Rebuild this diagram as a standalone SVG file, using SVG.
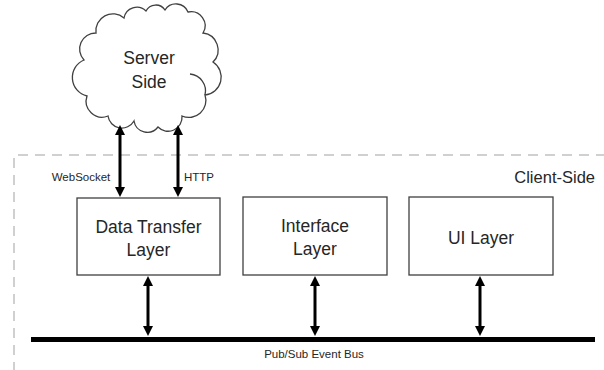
<svg xmlns="http://www.w3.org/2000/svg" width="604" height="370" viewBox="0 0 604 370">
<defs>
<style>
.box{fill:#fff;stroke:#404040;stroke-width:1.3}
.cloud{fill:#fff;stroke:#404040;stroke-width:1.3}
.t{font-family:"Liberation Sans",Arial,sans-serif;fill:#262626;text-anchor:middle}
.big{font-size:17.5px}
.small{font-size:11.5px}
.arr{stroke:#000;stroke-width:3;fill:none;marker-start:url(#ah);marker-end:url(#ah)}
</style>
<marker id="ah" viewBox="0 0 10 10" refX="2" refY="5" markerWidth="10" markerHeight="10" markerUnits="userSpaceOnUse" orient="auto-start-reverse">
<path d="M0,0 L10,5 L0,10 z" fill="#000"/>
</marker>
</defs>
<rect width="604" height="370" fill="#fff"/>
<g id="client-side">
<path d="M14,372 L14,155 L606,155" fill="none" stroke="#d0d0d0" stroke-width="2" stroke-dasharray="10,7"/>
<text class="t" x="595" y="183" style="font-size:16.5px;text-anchor:end">Client-Side</text>
</g>
<g id="server-side">
<path class="cloud" d="M84,60 A16,16 0 0 1 96,33 A17,17 0 0 1 124,18 A13,13 0 0 1 146,11 A11,11 0 0 1 165,10 A13,13 0 0 1 188,12 A14,14 0 0 1 203,33 A17,17 0 0 1 213,62 A18,18 0 0 1 205,95 A17,17 0 0 1 182,116 A14,14 0 0 1 158,127 A13.5,13.5 0 0 1 134,121 A14,14 0 0 1 108,116 A16,16 0 0 1 87,96 A19,19 0 0 1 84,60 z"/>
<path d="M190,74 A17,17 0 0 1 205,95" fill="none" stroke="#404040" stroke-width="1.3"/>
<text class="t big" x="149" y="64">Server</text>
<text class="t big" x="149" y="88">Side</text>
</g>
<g id="data-transfer">
<rect class="box" x="77" y="198" width="143" height="77"/>
<text class="t big" x="148.5" y="233">Data Transfer</text>
<text class="t big" x="148.5" y="256">Layer</text>
</g>
<g id="interface">
<rect class="box" x="243" y="197" width="144" height="78"/>
<text class="t big" x="315" y="232">Interface</text>
<text class="t big" x="315" y="255">Layer</text>
</g>
<g id="ui">
<rect class="box" x="409" y="197" width="144" height="78"/>
<text class="t big" x="481" y="244">UI Layer</text>
</g>
<g id="bus">
<rect x="31" y="337" width="564" height="5" fill="#000"/>
<text class="t small" x="314" y="358">Pub/Sub Event Bus</text>
</g>
<g id="connectors">
<path class="arr" d="M120,133 L120,189"/>
<path class="arr" d="M178,133 L178,189"/>
<path class="arr" d="M148,284 L148,328"/>
<path class="arr" d="M315,284 L315,328"/>
<path class="arr" d="M480,284 L480,328"/>
<text class="t small" x="81" y="181">WebSocket</text>
<text class="t small" x="184" y="181" style="text-anchor:start">HTTP</text>
</g>
</svg>
